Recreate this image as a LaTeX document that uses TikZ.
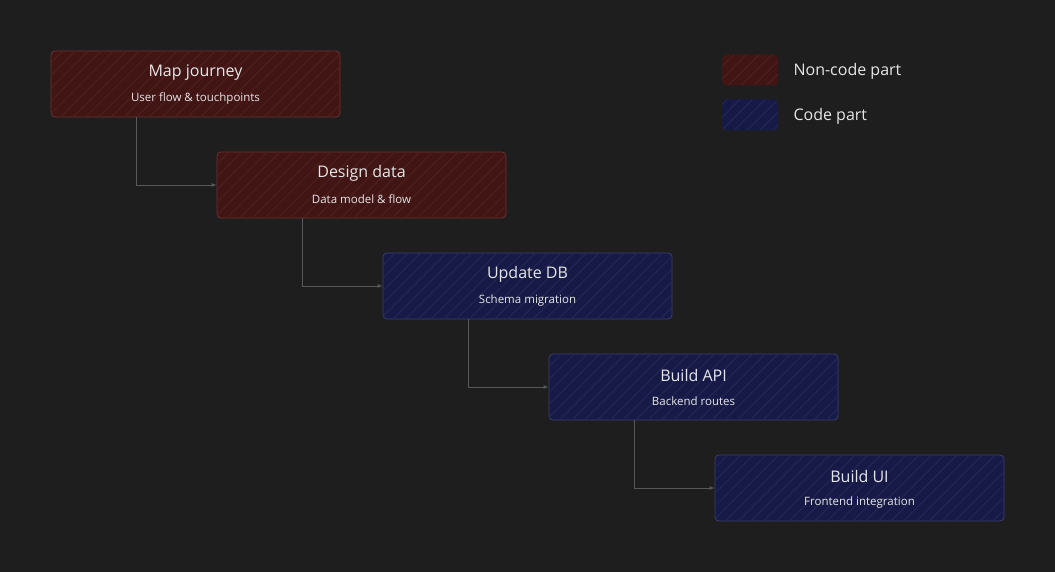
\documentclass[tikz,border=0pt]{standalone}
\usepackage{fontspec}
\setmainfont{Open Sans}
\usetikzlibrary{patterns.meta,arrows.meta,positioning}

\definecolor{bgc}{HTML}{1E1E1E}
\definecolor{redfill}{HTML}{421515}
\definecolor{redline}{HTML}{6E3333}
\definecolor{redhatch}{HTML}{4E1E1E}
\definecolor{bluefill}{HTML}{171A46}
\definecolor{blueline}{HTML}{3A3F72}
\definecolor{bluehatch}{HTML}{212655}
\definecolor{wirec}{HTML}{555A58}
\definecolor{txtc}{HTML}{E6E6E6}

\tikzset{
  hatch/.style={postaction={pattern={Lines[angle=45,distance=9pt,line width=1.2pt]}, pattern color=#1}},
  stagebox/.style={rounded corners=4pt, line width=0.8pt, minimum width=289pt, minimum height=66pt, inner sep=0pt},
  noncode/.style={stagebox, draw=redline, fill=redfill, hatch=redhatch},
  code/.style={stagebox, draw=blueline, fill=bluefill, hatch=bluehatch},
  swatch/.style={rounded corners=4pt, minimum width=56pt, minimum height=31pt, inner sep=0pt},
  titletext/.style={text=txtc, font=\fontsize{16}{19}\selectfont},
  subtext/.style={text=txtc, font=\fontsize{11.5}{14}\selectfont},
  legendtext/.style={text=txtc, font=\fontsize{16}{19}\selectfont, anchor=west},
  wire/.style={draw=wirec, line width=0.8pt, -{Latex[length=5pt,width=4pt]}}
}

% one stage box with its two lines of text
\newcommand{\stagebox}[5]{%
  \node[#2] (#1) at (#3) {};
  \node[titletext] (#1title) at ([yshift=-22pt] #1.north) {#4};
  \node[subtext] (#1sub) at ([yshift=-48pt] #1.north) {#5};
}

\begin{document}
\begin{tikzpicture}[x=1pt, y=-1pt]
  % background
  \fill[bgc] (0,0) rectangle (1055,572);
  \useasboundingbox (0,0) rectangle (1055,572);

  % stages
  \stagebox{journey}{noncode}{195.5,84}{Map journey}{User flow \& touchpoints}
  \stagebox{data}{noncode}{361.5,185}{Design data}{Data model \& flow}
  \stagebox{db}{code}{527.5,286}{Update DB}{Schema migration}
  \stagebox{api}{code}{693.5,387}{Build API}{Backend routes}
  \stagebox{ui}{code}{859.5,488}{Build UI}{Frontend integration}

  % connectors
  \draw[wire] ([xshift=86pt] journey.south west) |- (data.west);
  \draw[wire] ([xshift=86pt] data.south west) |- (db.west);
  \draw[wire] ([xshift=86pt] db.south west) |- (api.west);
  \draw[wire] ([xshift=86pt] api.south west) |- (ui.west);

  % legend
  \node[swatch, fill=redfill, hatch=redhatch] (noncodekey) at (750,70) {};
  \node[swatch, fill=bluefill, hatch=bluehatch] (codekey) at (750,115) {};
  \node[legendtext] (noncodelabel) at (790,71) {Non-code part};
  \node[legendtext] (codelabel) at (790,116) {Code part};
\end{tikzpicture}
\end{document}
